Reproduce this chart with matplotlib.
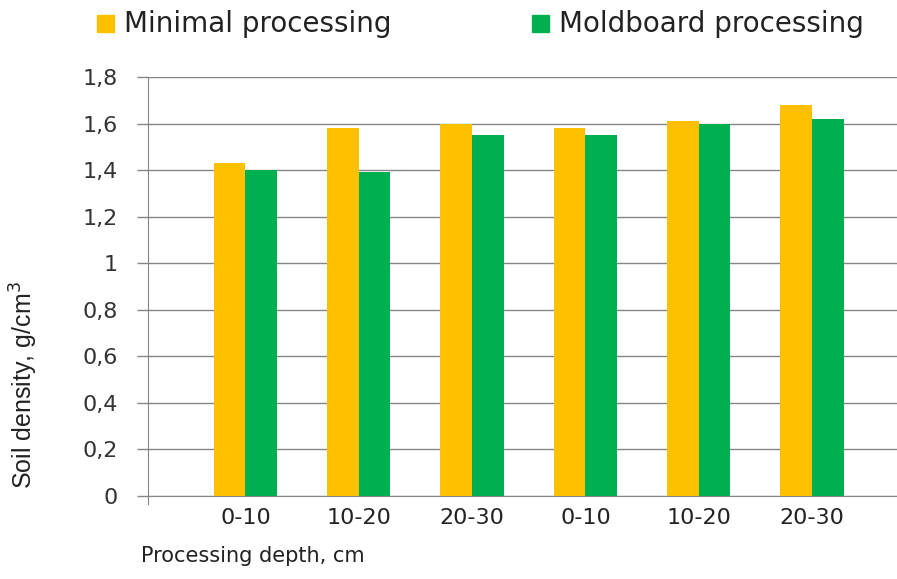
import matplotlib
matplotlib.use("Agg")
import matplotlib.pyplot as plt
import numpy as np

categories = ["0-10", "10-20", "20-30", "0-10", "10-20", "20-30"]
minimal = [1.43, 1.58, 1.60, 1.58, 1.61, 1.68]
moldboard = [1.40, 1.39, 1.55, 1.55, 1.60, 1.62]
series_names = ["Minimal processing", "Moldboard processing"]
yticks = [0, 0.2, 0.4, 0.6, 0.8, 1.0, 1.2, 1.4, 1.6, 1.8]
ytick_labels = ["0", "0,2", "0,4", "0,6", "0,8", "1", "1,2", "1,4", "1,6", "1,8"]

c_min = "#FFC000"
c_mold = "#00B050"
grid_c = "#858585"
txt_c = "#222222"

plt.rcParams['font.family'] = ['DejaVu Sans']

fig = plt.figure(figsize=(8.97, 5.79), dpi=100)
ax = fig.add_axes([0.165, 0.1434, 0.835, 0.7236])

x = np.arange(len(categories))
w = 0.28
ax.bar(x - w / 2, minimal, width=w, color=c_min, zorder=3)
ax.bar(x + w / 2, moldboard, width=w, color=c_mold, zorder=3)

ax.set_ylim(0, 1.8)
ax.set_xlim(-0.86, 5.75)
ax.set_yticks(yticks)
ax.set_yticklabels(ytick_labels, fontsize=16, color="#333333")
ax.set_xticks(x)
ax.set_xticklabels(categories, fontsize=16, color=txt_c)
ax.tick_params(axis='y', length=8, color=grid_c, pad=14, width=1)
ax.tick_params(axis='x', length=0, pad=9)
ax.yaxis.grid(True, color=grid_c, linewidth=1, zorder=0)
ax.set_axisbelow(True)
for s in ['top', 'right']:
    ax.spines[s].set_visible(False)
ax.spines['left'].set_color(grid_c)
ax.spines['bottom'].set_color(grid_c)
ax.spines['left'].set_bounds(-0.035, 1.8)

fig.text(0.157, 0.022, "Processing depth, cm", fontsize=15, color=txt_c, ha='left', va='bottom')
fig.text(0.027, 0.335, "Soil density, g/cm$^3$", fontsize=18, color=txt_c,
         family=['Liberation Sans', 'DejaVu Sans'],
         rotation=90, ha='center', va='center')

# legend
fig.patches.append(plt.Rectangle((97 / 897, 1 - 32 / 579), 17 / 897, 17 / 579,
                                 transform=fig.transFigure, color=c_min, figure=fig))
fig.text(124 / 897, 1 - 24 / 579, series_names[0], fontsize=20, color=txt_c, va='center')
fig.patches.append(plt.Rectangle((532 / 897, 1 - 32 / 579), 17 / 897, 17 / 579,
                                 transform=fig.transFigure, color=c_mold, figure=fig))
fig.text(559 / 897, 1 - 24 / 579, series_names[1], fontsize=20, color=txt_c, va='center')

fig.savefig("out.png", dpi=100)
